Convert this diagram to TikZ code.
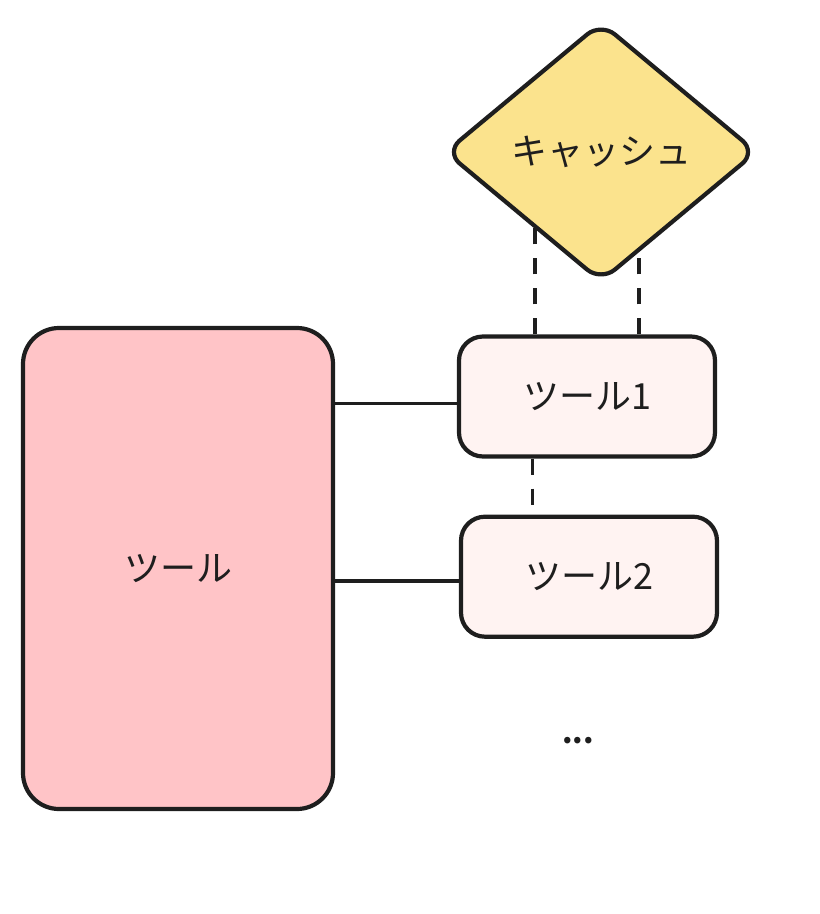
\documentclass[tikz,border=0pt]{standalone}
\usepackage{fontspec}
\setmainfont{Noto Sans CJK JP}
\usetikzlibrary{positioning,shapes.geometric,calc,backgrounds}
\definecolor{toolpink}{HTML}{FFC4C7}
\definecolor{subpink}{HTML}{FFF3F2}
\definecolor{cacheyellow}{HTML}{FBE38D}
\definecolor{ink}{HTML}{1E1E1E}
\begin{document}
\begin{tikzpicture}[x=1pt,y=-1pt,
	label font/.style={font=\fontsize{36}{40}\selectfont},
	bigbox/.style={draw=ink,line width=4.2pt,rounded corners=36pt,fill=toolpink,text=ink,label font,inner sep=0pt,minimum width=310pt,minimum height=481pt},
	toolbox/.style={draw=ink,line width=4.2pt,rounded corners=24pt,fill=subpink,text=ink,label font,inner sep=0pt,minimum width=256pt,minimum height=120pt},
	cachebox/.style={diamond,aspect=1.2,draw=ink,line width=4.2pt,rounded corners=18pt,fill=cacheyellow,text=ink,label font,inner sep=0pt,minimum width=312pt,minimum height=260pt},
	link/.style={draw=ink,line width=3.6pt},
	dashline/.style={draw=ink,line width=3.6pt,dash pattern=on 16pt off 14pt}]
	\useasboundingbox (0,0) rectangle (820,914);

	\node[bigbox] (tools) at (178,568.5) {ツール};
	\node[toolbox] (tool1) at (587,396.5) {ツール1};
	\node[toolbox, below=56pt of tool1, xshift=2pt] (tool2) {ツール2};
	\node[cachebox] (cache) at (601,152) {キャッシュ};
	\node[text=ink, font=\fontsize{30}{32}\selectfont\bfseries, inner sep=0pt] (dots) at (578,741) {...};

	\begin{scope}[on background layer]
		\draw[dashline] ($(tool1.north west)!0.3!(tool1.north east)$) coordinate (c1) -- (c1 |- cache.center);
		\draw[dashline] ($(tool1.north west)!0.7!(tool1.north east)$) coordinate (c2) -- (c2 |- cache.center);
		\draw[dashline] ($(tool1.south west)!0.29!(tool1.south east)$) coordinate (c3) -- (c3 |- tool2.north);
	\end{scope}
	\draw[link] ([yshift=-7pt]tool1.west -| tools.east) -- ([yshift=-7pt]tool1.west);
	\draw[link] ([yshift=-4pt]tool2.west -| tools.east) -- ([yshift=-4pt]tool2.west);
\end{tikzpicture}
\end{document}
